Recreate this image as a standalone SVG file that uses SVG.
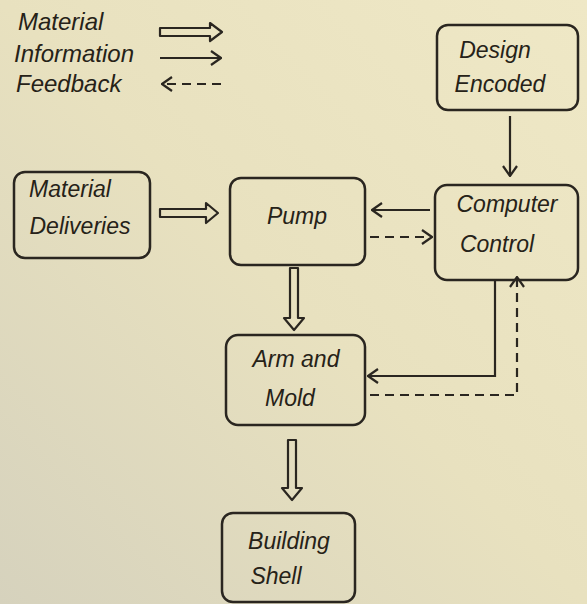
<svg xmlns="http://www.w3.org/2000/svg" width="587" height="604" viewBox="0 0 587 604">
<defs>
<linearGradient id="bg" x1="1" y1="0" x2="0" y2="1">
<stop offset="0" stop-color="#efe8c6"/>
<stop offset="0.5" stop-color="#e8e1bf"/>
<stop offset="1" stop-color="#d6d2bd"/>
</linearGradient>
<marker id="open" viewBox="0 0 12 16" refX="11" refY="8" markerWidth="12" markerHeight="16" markerUnits="userSpaceOnUse" orient="auto">
<path d="M1,1 L11,8 L1,15" fill="none" stroke="#2a2620" stroke-width="2.2"/>
</marker>
</defs>
<style>
.box{fill:none;stroke:#2a2620;stroke-width:2.5}
.t{font-family:"Liberation Sans",Arial,sans-serif;font-size:23px;fill:#262218;font-style:italic}
.lg{font-size:24px}
.c{text-anchor:middle}
.ln{fill:none;stroke:#2a2620;stroke-width:2.2}
.dash{stroke-dasharray:9 6}
.hollow{fill:none;stroke:#2a2620;stroke-width:2.2;stroke-linejoin:round}
</style>
<rect width="587" height="604" fill="url(#bg)"/>

<g id="legend">
<text class="t lg" x="18" y="30">Material</text>
<text class="t lg" x="14" y="62">Information</text>
<text class="t lg" x="16" y="92">Feedback</text>
<polygon class="hollow" points="160,28 210,28 210,23 222,32 210,41 210,36 160,36"/>
<line class="ln" x1="160" y1="58" x2="221" y2="58" marker-end="url(#open)"/>
<line class="ln dash" x1="221" y1="84" x2="162" y2="84" marker-end="url(#open)"/>
</g>

<g id="connectors">
<polygon class="hollow" points="160,209 206,209 206,203 218,213 206,223 206,217 160,217"/>
<line class="ln" x1="430" y1="210" x2="372" y2="210" marker-end="url(#open)"/>
<line class="ln dash" x1="370" y1="237" x2="432" y2="237" marker-end="url(#open)"/>
<line class="ln" x1="510" y1="116" x2="510" y2="176" marker-end="url(#open)"/>
<polygon class="hollow" points="290,268 298,268 298,318 304,318 294,330 284,318 290,318"/>
<polyline class="ln" points="495,280 495,376 368,376" marker-end="url(#open)"/>
<polyline class="ln dash" points="370,395 517,395 517,277" marker-end="url(#open)"/>
<polygon class="hollow" points="288,440 296,440 296,488 302,488 292,500 282,488 288,488"/>
</g>

<g id="design-encoded">
<rect class="box" x="437" y="25" width="141" height="85" rx="11"/>
<text class="t c" x="495" y="58">Design</text>
<text class="t c" x="500" y="92">Encoded</text>
</g>

<g id="material-deliveries">
<rect class="box" x="14" y="172" width="136" height="86" rx="11"/>
<text class="t c" x="70" y="197">Material</text>
<text class="t c" x="80" y="234">Deliveries</text>
</g>

<g id="pump">
<rect class="box" x="230" y="178" width="135" height="87" rx="11"/>
<text class="t c" x="297" y="224">Pump</text>
</g>

<g id="computer-control">
<rect class="box" x="435" y="185" width="143" height="95" rx="12"/>
<text class="t c" x="507" y="212">Computer</text>
<text class="t c" x="497" y="252">Control</text>
</g>

<g id="arm-and-mold">
<rect class="box" x="226" y="335" width="139" height="90" rx="12"/>
<text class="t c" x="296" y="367">Arm and</text>
<text class="t c" x="290" y="406">Mold</text>
</g>

<g id="building-shell">
<rect class="box" x="222" y="513" width="133" height="89" rx="11"/>
<text class="t c" x="289" y="549">Building</text>
<text class="t c" x="276" y="584">Shell</text>
</g>
</svg>
